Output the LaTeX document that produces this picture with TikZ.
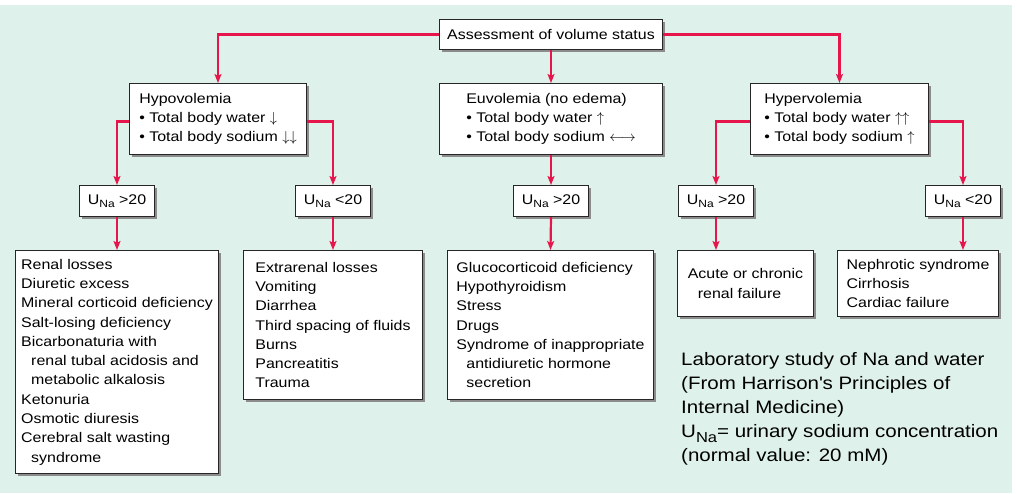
\documentclass[tikz,border=0pt]{standalone}
\usepackage{fontspec}
\setmainfont{Liberation Sans}[FakeStretch=1.14]
\usetikzlibrary{arrows.meta,shadows}
\definecolor{bgcol}{RGB}{222,241,234}
\definecolor{linkred}{RGB}{230,22,76}
\newcommand\myind{\hspace*{10pt}}
\newcommand\una{U\raisebox{-3.5pt}{\fontsize{10.5}{10.5}\selectfont Na}}
\begin{document}
\begin{tikzpicture}[x=1pt,y=-1pt,
  box/.style={draw=black!85, line width=1pt, fill=white,
    drop shadow={shadow xshift=2.5pt,shadow yshift=-2.5pt,fill=black!45,opacity=1},
    align=left, inner sep=0pt, anchor=north west,
    font=\fontsize{14}{19.3}\selectfont},
  conn/.style={draw=linkred, line width=2.2pt, -{Stealth[length=9pt,width=7pt,inset=2pt]}},
  caption/.style={align=left, inner sep=0pt, anchor=north west,
    font=\fontsize{18}{24}\selectfont}]
\useasboundingbox (0,0) rectangle (1017,493);
\fill[white] (0,0) rectangle (1017,493);
\fill[bgcol] (0,5) rectangle (1012,493);

\node[box, minimum width=223pt, minimum height=30pt] (assess) at (439,19) {Assessment of volume status};
\node[box, minimum width=177pt, minimum height=71pt] (hypo) at (129,83)
  {Hypovolemia\\\textbullet\ Total body water $\downarrow$\\\textbullet\ Total body sodium $\downarrow\downarrow$};
\node[box, minimum width=223pt, minimum height=71pt] (euvo) at (439,83)
  {Euvolemia (no edema)\\\textbullet\ Total body water $\uparrow$\\\textbullet\ Total body sodium $\longleftrightarrow$};
\node[box, minimum width=178pt, minimum height=71pt] (hyper) at (750,83)
  {Hypervolemia\\\textbullet\ Total body water $\uparrow\uparrow$\\\textbullet\ Total body sodium $\uparrow$};

\node[box, minimum width=75pt, minimum height=31pt] (u1) at (79,185) {\una\ >20};
\node[box, minimum width=75pt, minimum height=31pt] (u2) at (295,185) {\una\ <20};
\node[box, minimum width=75pt, minimum height=31pt] (u3) at (513,185) {\una\ >20};
\node[box, minimum width=75pt, minimum height=31pt] (u4) at (678,185) {\una\ >20};
\node[box, minimum width=75pt, minimum height=31pt] (u5) at (925,185) {\una\ <20};

\node[box, minimum width=203pt, minimum height=223pt] (renal) at (15,250)
  {Renal losses\\Diuretic excess\\Mineral corticoid deficiency\\Salt-losing deficiency\\Bicarbonaturia with\\\myind renal tubal acidosis and\\\myind metabolic alkalosis\\Ketonuria\\Osmotic diuresis\\Cerebral salt wasting\\\myind syndrome};
\node[box, minimum width=179pt, minimum height=149pt] (extra) at (243,250)
  {Extrarenal losses\\Vomiting\\Diarrhea\\Third spacing of fluids\\Burns\\Pancreatitis\\Trauma};
\node[box, minimum width=206pt, minimum height=149pt] (gluco) at (447,250)
  {Glucocorticoid deficiency\\Hypothyroidism\\Stress\\Drugs\\Syndrome of inappropriate\\\myind antidiuretic hormone\\\myind secretion};
\node[box, minimum width=136pt, minimum height=66pt] (acute) at (677,250)
  {Acute or chronic\\\myind renal failure};
\node[box, minimum width=161pt, minimum height=66pt] (neph) at (837,250)
  {Nephrotic syndrome\\Cirrhosis\\Cardiac failure};

\node[caption] (cap) at (681,352)
  {Laboratory study of Na and water\\(From Harrison\textquotesingle s Principles of\\Internal Medicine)\\U\raisebox{-5pt}{\fontsize{14.5}{14.5}\selectfont Na}= urinary sodium concentration\\(normal value: 20 mM)};

\draw[conn] (assess.west) -| (hypo.north);
\draw[conn] (assess.south) -- (euvo.north);
\draw[conn] (assess.east) -| (hyper.north);
\draw[conn] ([yshift=-2.5pt]hypo.west) -| (u1.north);
\draw[conn] ([yshift=-2.5pt]hypo.east) -| (u2.north);
\draw[conn] (euvo.south) -- (u3.north);
\draw[conn] ([yshift=-2.5pt]hyper.west) -| (u4.north);
\draw[conn] ([yshift=-2.5pt]hyper.east) -| (u5.north);
\draw[conn] (u1.south) -- (renal.north);
\draw[conn] (u2.south) -- (extra.north);
\draw[conn] (u3.south) -- (gluco.north);
\draw[conn] (u4.south) -- (u4.south |- acute.north);
\draw[conn] (u5.south) -- (u5.south |- neph.north);
\end{tikzpicture}
\end{document}
